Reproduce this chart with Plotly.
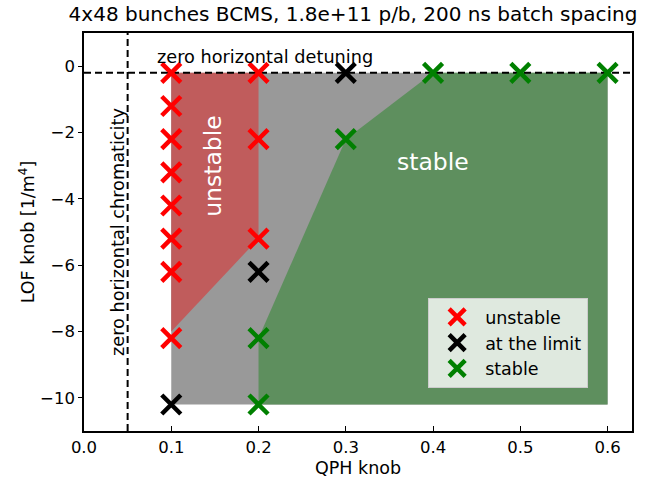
import plotly.graph_objects as go

# ---- data ----
unstable_x = [0.1, 0.1, 0.1, 0.1, 0.1, 0.1, 0.1, 0.1, 0.2, 0.2, 0.2]
unstable_y = [-0.2, -1.2, -2.2, -3.2, -4.2, -5.2, -6.2, -8.2, -0.2, -2.2, -5.2]
limit_x = [0.3, 0.2, 0.1]
limit_y = [-0.2, -6.2, -10.2]
stable_x = [0.4, 0.5, 0.6, 0.3, 0.2, 0.2]
stable_y = [-0.2, -0.2, -0.2, -2.2, -8.2, -10.2]

gray_poly_x = [0.1, 0.6, 0.6, 0.1]
gray_poly_y = [-0.2, -0.2, -10.2, -10.2]
red_poly_x = [0.1, 0.2, 0.2, 0.1]
red_poly_y = [-0.2, -0.2, -5.2, -8.0]
green_poly_x = [0.2, 0.2, 0.3, 0.4, 0.6, 0.6]
green_poly_y = [-10.2, -8.2, -2.2, -0.2, -0.2, -10.2]

zero_detuning_y = -0.2
zero_chroma_x = 0.05

x_ticks = [0.0, 0.1, 0.2, 0.3, 0.4, 0.5, 0.6]
y_ticks = [0, -2, -4, -6, -8, -10]

FONT = "DejaVu Sans"

fig = go.Figure()

for px_, py_, col in [(gray_poly_x, gray_poly_y, "#999999"),
                      (red_poly_x, red_poly_y, "#c05c5c"),
                      (green_poly_x, green_poly_y, "#5e8f5e")]:
    fig.add_trace(go.Scatter(x=px_ + [px_[0]], y=py_ + [py_[0]], mode="lines",
                             fill="toself", fillcolor=col, line=dict(width=0, color=col),
                             showlegend=False, hoverinfo="skip"))

# dashed reference lines
fig.add_trace(go.Scatter(x=[0, 0.63], y=[zero_detuning_y, zero_detuning_y], mode="lines",
                         line=dict(color="black", width=2, dash="7px,4px"),
                         showlegend=False, hoverinfo="skip"))
fig.add_trace(go.Scatter(x=[zero_chroma_x, zero_chroma_x], y=[-11, 1], mode="lines",
                         line=dict(color="black", width=2, dash="7px,4px"),
                         showlegend=False, hoverinfo="skip"))

for xs, ys, col, name, grp in [(unstable_x, unstable_y, "red", "unstable", "a"),
                               (limit_x, limit_y, "black", "at the limit", "b"),
                               (stable_x, stable_y, "green", "stable", "c")]:
    fig.add_trace(go.Scatter(x=xs, y=ys, mode="markers", name=name, legendgroup=grp,
                             marker=dict(symbol="x-thin", size=19, color=col,
                                         line=dict(width=4.5, color=col))))

fig.add_annotation(x=0.081, y=0.0, text="zero horizontal detuning", showarrow=False,
                   xanchor="left", yanchor="bottom", yshift=-3,
                   font=dict(family=FONT, size=17.7, color="black"),
                   xref="x", yref="y")
fig.add_annotation(x=0.039, y=-5.0, text="zero horizontal chromaticity", showarrow=False,
                   textangle=-90, font=dict(family=FONT, size=17.7, color="black"),
                   xref="x", yref="y")
fig.add_annotation(x=0.148, y=-3.0, text="unstable", showarrow=False,
                   textangle=-90, font=dict(family=FONT, size=23.5, color="white"),
                   xref="x", yref="y")
fig.add_annotation(x=0.40, y=-2.9, text="stable", showarrow=False,
                   font=dict(family=FONT, size=23.5, color="white"),
                   xref="x", yref="y")

fig.update_layout(
    width=647, height=481,
    margin=dict(l=84, r=15, t=33, b=50),
    paper_bgcolor="white", plot_bgcolor="white",
    font=dict(family=FONT, size=16.5, color="black"),
    title=dict(text="4x48 bunches BCMS, 1.8e+11 p/b, 200 ns batch spacing",
               x=353 / 647, xanchor="center", y=1 - 14 / 481, yanchor="middle",
               font=dict(family=FONT, size=20, color="black")),
    legend=dict(x=0.628, y=0.334, xanchor="left", yanchor="top",
                bgcolor="rgba(255,255,255,0.8)", bordercolor="#cccccc", borderwidth=1,
                font=dict(family=FONT, size=17.5), tracegroupgap=0, traceorder="grouped",
                itemwidth=46),
    xaxis=dict(range=[0, 0.628], tickvals=x_ticks, tickformat=".1f", ticks="inside",
               ticklen=5, tickwidth=1.2, tickcolor="black", showline=True, linecolor="black",
               linewidth=1.5, mirror=True, showgrid=False, zeroline=False, automargin=False,
               tickfont=dict(family=FONT, size=16.5),
               title=dict(text="QPH knob", font=dict(family=FONT, size=17.5), standoff=6)),
    yaxis=dict(range=[-11, 1], tickvals=y_ticks, ticks="outside", ticklen=4, tickwidth=1.2,
               tickcolor="black", showline=True, linecolor="black", linewidth=1.5,
               mirror=True, showgrid=False, zeroline=False, automargin=False,
               tickfont=dict(family=FONT, size=16.5),
               title=dict(text="LOF knob [1/m<sup>4</sup>]", font=dict(family=FONT, size=17.5),
                          standoff=1)),
)

fig.write_html("out.html")
